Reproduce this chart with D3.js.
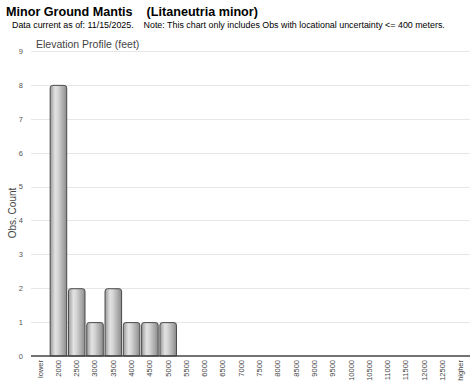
<!DOCTYPE html>
<html><head><meta charset="utf-8">
<script src="https://cdn.jsdelivr.net/npm/d3@7"></script>
<style>body{margin:0;background:#fff;font-family:Arial,"Liberation Sans",sans-serif}</style>
</head><body>
<svg id="c" width="474" height="387"></svg>
<script>
const categories = ["lower","2000","2500","3000","3500","4000","4500","5000","5500","6000","6500","7000","7500","8000","8500","9000","9500","10000","10500","11000","11500","12000","12500","higher"];
const counts = [0,8,2,1,2,1,1,1,0,0,0,0,0,0,0,0,0,0,0,0,0,0,0,0];
const yTicks = [0,1,2,3,4,5,6,7,8,9];

const svg = d3.select("#c");
const m = {l:31, r:4, t:51, b:31};
const W = 474, H = 387;
const x = d3.scaleBand().domain(categories).range([m.l, W - m.r]).paddingInner(0.04).paddingOuter(0.02);
const y = d3.scaleLinear().domain([0,9]).range([H - m.b, m.t]);

const defs = svg.append("defs");
const g = defs.append("linearGradient").attr("id","bg").attr("x1","0").attr("x2","1").attr("y1","0").attr("y2","0");
[[0,"#9a9a9a"],[0.3,"#e2e2e2"],[0.45,"#d8d8d8"],[0.8,"#a8a8a8"],[1,"#8a8a8a"]].forEach(([o,c])=>g.append("stop").attr("offset",o).attr("stop-color",c));

// title
svg.append("text").attr("x",6).attr("y",16).attr("font-size",12.6).attr("font-weight","bold").attr("fill","#000")
  .attr("xml:space","preserve").text("Minor Ground Mantis    (Litaneutria minor)");
svg.append("text").attr("x",12).attr("y",28).attr("font-size",8.9).attr("fill","#000")
  .attr("xml:space","preserve").text("Data current as of: 11/15/2025.    Note: This chart only includes Obs with locational uncertainty <= 400 meters.");
svg.append("text").attr("x",36).attr("y",48).attr("font-size",10.5).attr("fill","#444")
  .attr("font-family","Arial,sans-serif").text("Elevation Profile (feet)");

// grid
svg.append("g").selectAll("line").data(yTicks.filter(d=>d>0)).join("line")
  .attr("x1",m.l).attr("x2",W-m.r).attr("y1",d=>Math.round(y(d))+0.5).attr("y2",d=>Math.round(y(d))+0.5)
  .attr("stroke","#e6e6e6").attr("stroke-width",1);

// y axis labels
const ya = svg.append("g").attr("transform",`translate(${m.l},0)`)
  .call(d3.axisLeft(y).tickValues(yTicks).tickSize(0).tickPadding(8).tickFormat(d3.format("d")));
ya.select(".domain").remove();
ya.selectAll("text").attr("font-size",7.5).attr("fill","#555").attr("font-family","Arial,sans-serif");

svg.append("text").attr("transform",`translate(16,213) rotate(-90)`).attr("text-anchor","middle")
  .attr("font-size",10).attr("fill","#444").attr("font-family","Arial,sans-serif").text("Obs. Count");

// bars
const r = 2.5;
svg.append("g").selectAll("path").data(categories.map((c,i)=>({c,v:counts[i]})).filter(d=>d.v>0)).join("path")
  .attr("d",d=>{
    const x0 = x(d.c)+0.5, x1 = x(d.c)+x.bandwidth()-0.5, y0 = y(d.v)+0.5, yb = y(0);
    return `M${x0},${yb}L${x0},${y0+r}Q${x0},${y0} ${x0+r},${y0}L${x1-r},${y0}Q${x1},${y0} ${x1},${y0+r}L${x1},${yb}Z`;
  })
  .attr("fill","url(#bg)").attr("stroke","#4a4a4a").attr("stroke-width",1);

// x axis
const xa = svg.append("g").attr("transform",`translate(0,${y(0)})`)
  .call(d3.axisBottom(x).tickSize(0).tickPadding(4));
xa.select(".domain").attr("stroke","#444").attr("stroke-width",1.5).attr("d",`M${m.l},0H${W-m.r}`);
xa.selectAll("text").attr("font-size",7.5).attr("fill","#444").attr("font-family","Arial,sans-serif")
  .attr("transform","rotate(-90)").attr("text-anchor","end").attr("dx","-4")
  .attr("x",0).attr("y",0).attr("dy","0.32em");
</script>
</body></html>
